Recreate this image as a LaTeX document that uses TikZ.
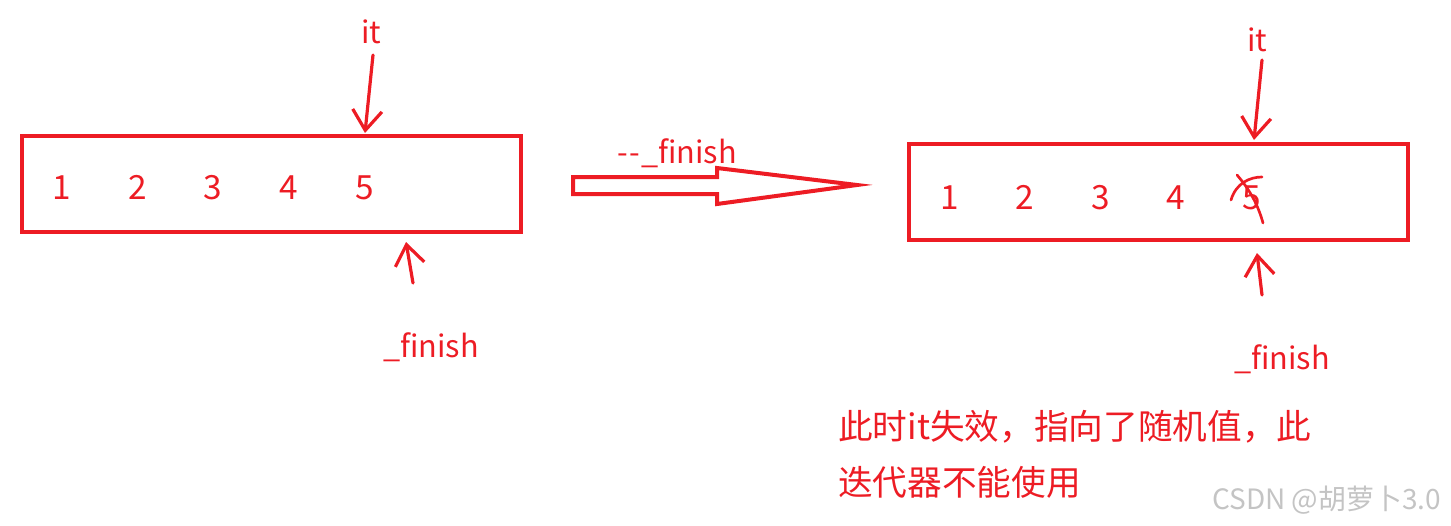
\documentclass[tikz,border=0pt]{standalone}
\usepackage{fontspec}
\setmainfont{Noto Sans CJK SC}
\usetikzlibrary{arrows.meta}
\definecolor{inkred}{HTML}{ED1C24}
\definecolor{markgray}{HTML}{C4C4C4}

\begin{document}
\begin{tikzpicture}[x=0.75pt,y=-0.75pt,
  box/.style={draw=inkred, line width=3pt},
  digit/.style={text=inkred, font=\fontsize{25}{30}\selectfont, inner sep=0pt},
  lbl/.style={text=inkred, font=\fontsize{23}{27}\selectfont, inner sep=0pt, anchor=base west},
  note/.style={text=inkred, font=\fontsize{26}{31}\selectfont, inner sep=0pt, anchor=base west},
  pen/.style={draw=inkred, line width=2.4pt, line cap=round, line join=round},
  barb/.style={-{Straight Barb[length=15pt,width=22pt,line width=2.4pt]}}]
  \useasboundingbox (0,0) rectangle (1451,525);
  % before
  \draw[box] (22,136) rectangle (521,232);
  \foreach \v/\x in {1/62,2/138,3/213,4/289,5/365}
    \node[digit] (l\v) at (\x,187.5) {\v};
  \node[lbl] (itL) at (361,43) {it};
  \node[lbl] (finL) at (383,357) {\_finish};
  \coordinate (itLa) at (373,55);
  \coordinate (itLb) at (365,133);
  \coordinate (finLa) at (413,283);
  \coordinate (finLb) at (406,242);
  \draw[pen,barb] (itLa) -- (itLb);
  \draw[pen,barb] (finLa) -- (finLb);
  % hollow arrow
  \node[lbl] (step) at (617,163) {-\kern1pt-\kern1pt\_finish};
  \coordinate (sh1) at (573,177);
  \coordinate (sh2) at (717,177);
  \coordinate (hd1) at (717,168);
  \coordinate (tip) at (857,185);
  \coordinate (hd2) at (717,204);
  \coordinate (sh3) at (717,194);
  \coordinate (sh4) at (573,194);
  \draw[draw=inkred, line width=3pt, line join=miter]
    (sh1) -- (sh2) -- (hd1) -- (tip) -- (hd2) -- (sh3) -- (sh4) -- cycle;
  % after
  \draw[box] (909,144) rectangle (1408,240);
  \foreach \v/\x in {1/950,2/1025,3/1101,4/1176,5/1252}
    \node[digit] (r\v) at (\x,197.5) {\v};
  \draw[pen, line width=2pt] (1231,200) .. controls (1236,183) and (1250,177) .. (1262,177);
  \draw[pen, line width=2pt] (1237,175) .. controls (1250,190) and (1258,205) .. (1263,223);
  \node[lbl] (itR) at (1247,51) {it};
  \node[lbl] (finR) at (1234,369) {\_finish};
  \coordinate (itRa) at (1262,60);
  \coordinate (itRb) at (1254,140);
  \coordinate (finRa) at (1262,295);
  \coordinate (finRb) at (1257,253);
  \draw[pen,barb] (itRa) -- (itRb);
  \draw[pen,barb] (finRa) -- (finRb);
  % note
  \node[note] (note1) at (838,439) {此时it失效，指向了随机值，此};
  \node[note] (note2) at (838,495) {迭代器不能使用};
  \node[text=markgray, font=\fontsize{21}{25}\selectfont, inner sep=0pt, anchor=base west]
    (mark) at (1212,509) {CSDN @胡萝卜3.0};
\end{tikzpicture}
\end{document}
